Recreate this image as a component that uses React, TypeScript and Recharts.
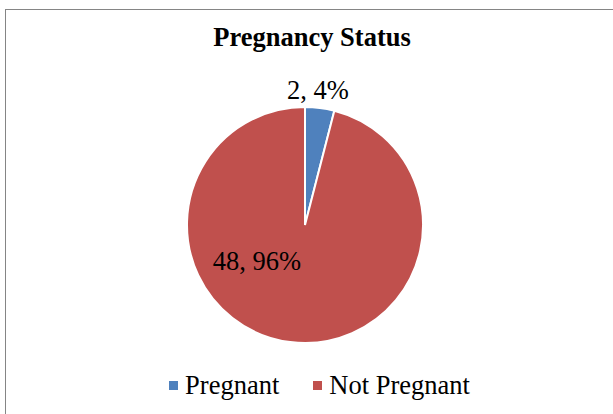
import { PieChart, Pie, Cell, Legend } from 'recharts'

const categories = ['Pregnant', 'Not Pregnant']
const counts = [2, 48]
const percents = ['4%', '96%']
const colors = ['#4F81BD', '#C0504D']

const data = categories.map((name, i) => ({ name, value: counts[i], pct: percents[i] }))

const FONT = '"Liberation Serif", "Times New Roman", serif'

// Excel-style label spots: small slice outside, large slice inside-left
const renderLabel = (props: any) => {
  const { cx, cy, index, outerRadius } = props
  const d = data[index]
  let x = cx
  let y = cy
  if (index === 0) {
    x = cx + 13
    y = cy - outerRadius - 17
  } else {
    x = cx - 48
    y = cy + 36
  }
  return (
    <text
      x={x}
      y={y}
      textAnchor="middle"
      dominantBaseline="central"
      fontFamily={FONT}
      fontSize={26.5}
      fill="#000"
    >
      {`${d.value}, ${d.pct}`}
    </text>
  )
}

const renderLegend = () => (
  <div
    style={{
      display: 'flex',
      justifyContent: 'center',
      alignItems: 'center',
      fontFamily: FONT,
      fontSize: 26.5,
      color: '#000',
      paddingLeft: 26,
    }}
  >
    {data.map((d, i) => (
      <div key={d.name} style={{ display: 'flex', alignItems: 'center', marginRight: i === 0 ? 34 : 0 }}>
        <span style={{ width: 9, height: 9, background: colors[i], marginRight: 7, display: 'inline-block' }} />
        <span>{d.name}</span>
      </div>
    ))}
  </div>
)

export default function App() {
  return (
    <div style={{ position: 'fixed', top: 0, left: 0, width: 613, height: 414, background: '#fff', overflow: 'hidden' }}>
      <div
        style={{
          position: 'absolute',
          left: 5,
          top: 9,
          width: 620,
          height: 420,
          border: '1px solid #858585',
          boxSizing: 'border-box',
        }}
      />
      <div
        style={{
          position: 'absolute',
          top: 22,
          left: 0,
          width: 613,
          paddingLeft: 11,
          boxSizing: 'border-box',
          textAlign: 'center',
          fontFamily: FONT,
          fontWeight: 'bold',
          fontSize: 26.5,
          color: '#000',
        }}
      >
        Pregnancy Status
      </div>
      <div style={{ position: 'absolute', top: 0, left: 0 }}>
        <PieChart width={613} height={414} margin={{ top: 0, right: 0, bottom: 0, left: 0 }}>
          <Pie
            data={data}
            dataKey="value"
            nameKey="name"
            cx={305}
            cy={225}
            outerRadius={118}
            startAngle={90}
            endAngle={-270}
            stroke="#fff"
            strokeWidth={2}
            label={renderLabel}
            labelLine={false}
            isAnimationActive={false}
          >
            {data.map((d, i) => (
              <Cell key={d.name} fill={colors[i]} />
            ))}
          </Pie>
          <Legend
            content={renderLegend}
            verticalAlign="bottom"
            wrapperStyle={{ bottom: 13 }}
          />
        </PieChart>
      </div>
    </div>
  )
}
